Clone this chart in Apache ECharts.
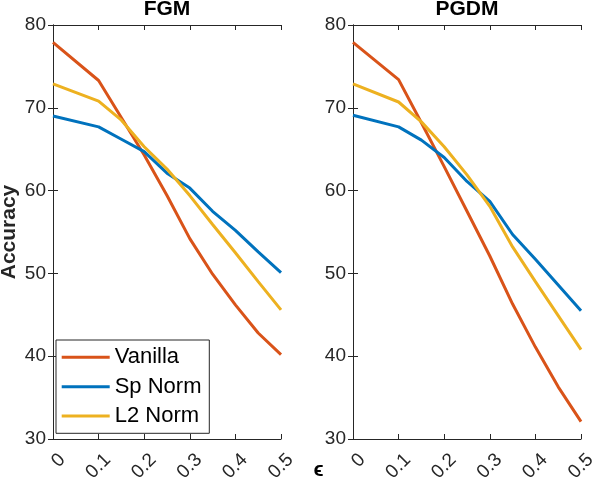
<!DOCTYPE html>
<html>
<head>
<meta charset="utf-8">
<script src="https://cdn.jsdelivr.net/npm/echarts@6/dist/echarts.min.js"></script>
<style>
html,body{margin:0;padding:0;background:#fff;}
#chart{width:594px;height:480px;}
</style>
</head>
<body>
<div id="chart"></div>
<script>
// ---- data ----
const epsValues = [0, 0.1, 0.15, 0.2, 0.25, 0.3, 0.35, 0.4, 0.45, 0.5];
const seriesNames = ['Vanilla', 'Sp Norm', 'L2 Norm'];
const panelTitles = ['FGM', 'PGDM'];
const fgmVanilla = [77.9, 73.3, 68.8, 64.3, 59.4, 54.2, 49.9, 46.2, 42.8, 40.2];
const fgmSpNorm  = [69.0, 67.7, 66.2, 64.7, 62.1, 60.3, 57.5, 55.2, 52.6, 50.1];
const fgmL2Norm  = [72.9, 70.8, 68.5, 65.3, 62.6, 59.4, 55.9, 52.5, 49.0, 45.6];
const pgdmVanilla = [77.9, 73.4, 68.2, 62.9, 57.5, 52.1, 46.3, 41.1, 36.3, 32.1];
const pgdmSpNorm  = [69.1, 67.7, 66.1, 64.0, 61.1, 58.7, 54.7, 51.7, 48.6, 45.5];
const pgdmL2Norm  = [72.9, 70.7, 68.3, 65.3, 61.9, 58.1, 53.2, 49.0, 44.9, 40.8];
const yTicks = [30, 40, 50, 60, 70, 80];
const xTicks = [0, 0.1, 0.2, 0.3, 0.4, 0.5];

// ---- styles ----
const colors = ['#D95319', '#0072BD', '#EDB120'];
const axisColor = '#262626';
const fontFam = '"Liberation Sans", Arial, Helvetica, sans-serif';
const grids = [
  {left: 53, top: 25, width: 228, height: 414},
  {left: 353, top: 25, width: 228, height: 414}
];

const chart = echarts.init(document.getElementById('chart'), null, {renderer: 'canvas'});

const xAxes = [], yAxes = [];
grids.forEach((g, gi) => {
  const common = {
    gridIndex: gi, type: 'value',
    axisLine: {show: true, lineStyle: {color: axisColor, width: 1}},
    axisTick: {show: true, inside: true, length: 5, lineStyle: {color: axisColor}},
    splitLine: {show: false}
  };
  xAxes.push(Object.assign({}, common, {
    position: 'bottom', min: xTicks[0], max: xTicks[xTicks.length - 1], interval: 0.1,
    axisLabel: {
      rotate: 45, margin: 27, fontSize: 19, color: axisColor, fontFamily: fontFam,
      padding: [0, -13, 0, 0],
      formatter: v => String(Math.round(v * 10) / 10)
    }
  }));
  xAxes.push(Object.assign({}, common, {
    position: 'top', min: xTicks[0], max: xTicks[xTicks.length - 1], interval: 0.1,
    axisLabel: {show: false}
  }));
  yAxes.push(Object.assign({}, common, {
    position: 'left', min: yTicks[0], max: yTicks[yTicks.length - 1], interval: 10,
    axisLabel: {margin: 7, fontSize: 19, color: axisColor, fontFamily: fontFam}
  }));
  yAxes.push(Object.assign({}, common, {
    position: 'right', min: yTicks[0], max: yTicks[yTicks.length - 1], interval: 10,
    axisLabel: {show: false}
  }));
});

const panels = [
  [fgmVanilla, fgmSpNorm, fgmL2Norm],
  [pgdmVanilla, pgdmSpNorm, pgdmL2Norm]
];
const series = [];
panels.forEach((arrs, gi) => {
  arrs.forEach((vals, si) => {
    series.push({
      name: seriesNames[si], type: 'line',
      xAxisIndex: gi * 2, yAxisIndex: gi * 2,
      data: epsValues.map((x, i) => [x, vals[i]]),
      showSymbol: false, symbol: 'none',
      lineStyle: {width: 3, color: colors[si]},
      itemStyle: {color: colors[si]},
      animation: false, z: 3
    });
  });
});

chart.setOption({
  animation: false,
  backgroundColor: '#fff',
  grid: grids.map(g => Object.assign({containLabel: false, outerBoundsMode: 'none'}, g)),
  xAxis: xAxes,
  yAxis: yAxes,
  title: panelTitles.map((t, i) => ({
    text: t, left: grids[i].left + grids[i].width / 2, top: -1, textAlign: 'center',
    padding: 0,
    textStyle: {fontSize: 21, fontWeight: 'bold', color: '#000', fontFamily: fontFam}
  })),
  legend: {
    data: seriesNames, orient: 'vertical', left: 56, top: 340,
    icon: 'rect', itemWidth: 48, itemHeight: 3, itemGap: 0,
    padding: [2.7, 7.8, 2.7, 5.7],
    backgroundColor: '#fff', borderColor: axisColor, borderWidth: 1,
    textStyle: {fontSize: 22, color: '#000', fontFamily: fontFam, lineHeight: 29.3},
    selectedMode: false
  },
  graphic: [
    {type: 'text', x: 9, y: 232, rotation: Math.PI / 2,
     style: {text: 'Accuracy', fontSize: 21, fontWeight: 'bold', fill: '#262626',
             fontFamily: fontFam, align: 'center', verticalAlign: 'middle'}},
    {type: 'text', x: 318.5, y: 470,
     style: {text: 'ϵ', fontSize: 21, fontWeight: 'bold', fill: '#000',
             fontFamily: fontFam, align: 'center', verticalAlign: 'middle'}}
  ],
  series: series
});
</script>
</body>
</html>
